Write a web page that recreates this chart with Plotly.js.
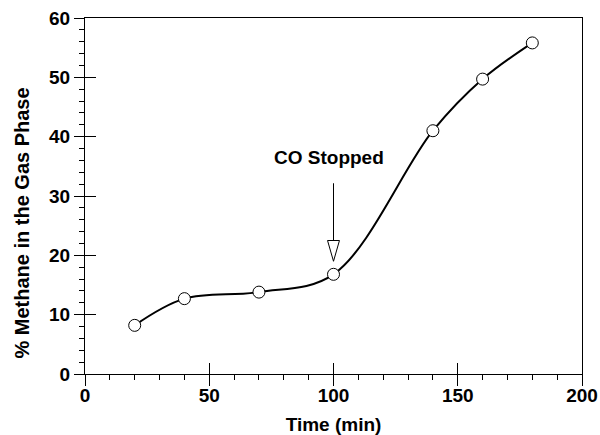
<!DOCTYPE html>
<html>
<head>
<meta charset="utf-8">
<script src="https://cdn.plot.ly/plotly-3.0.1.min.js"></script>
<style>html,body{margin:0;padding:0;background:#fff}#chart{width:600px;height:435px}</style>
</head>
<body>
<div id="chart"></div>
<script>
// Data
const timeMin = [20, 40, 70, 100, 140, 160, 180];
const methanePct = [8.2, 12.7, 13.8, 16.8, 41.0, 49.7, 55.8];
const xTickVals = [0, 50, 100, 150, 200];
const yTickVals = [0, 10, 20, 30, 40, 50, 60];
const xTitle = "Time (min)";
const yTitle = "% Methane in the Gas Phase";
const annotText = "CO Stopped";
const annotX = 100;      // time where CO was stopped
const annotTipY = 19.0;  // arrow tip
const annotTailY = 32.4; // arrow tail
const annotTextY = 34.4;

const FONT = "Liberation Sans, Arial, Helvetica, sans-serif";

const trace = {
  x: timeMin, y: methanePct,
  type: "scatter", mode: "lines+markers",
  line: {color: "#000", width: 2, shape: "spline", smoothing: 1},
  marker: {symbol: "circle", size: 12, color: "#fff", line: {color: "#000", width: 1}},
  hoverinfo: "x+y", cliponaxis: false
};
// empty trace so that the overlay axes (inner half of the major ticks) get drawn
const tickHelper = {x: [], y: [], xaxis: "x2", yaxis: "y2", type: "scatter", mode: "markers", hoverinfo: "skip", showlegend: false};

const headH = 3.5, headW = 2.4;

const layout = {
  width: 600, height: 435,
  margin: {l: 85, r: 18, t: 18, b: 61},
  paper_bgcolor: "#fff", plot_bgcolor: "#fff",
  showlegend: false,
  font: {family: FONT, color: "#000"},
  xaxis: {
    range: [0, 200], tickvals: xTickVals, ticktext: xTickVals.map(String),
    ticks: "outside", ticklen: 11, tickwidth: 1, tickcolor: "#000",
    minor: {dtick: 10, ticks: "outside", ticklen: 5, tickwidth: 1, tickcolor: "#000"},
    showgrid: false, zeroline: false,
    showline: true, linecolor: "#000", linewidth: 1, mirror: true,
    ticklabelstandoff: -7,
    tickfont: {family: FONT, size: 19, weight: "bold", color: "#000"},
    title: {text: "<b>" + xTitle + "</b>", font: {family: FONT, size: 19, color: "#000"}, standoff: 14}
  },
  yaxis: {
    range: [0, 60], tickvals: yTickVals, ticktext: yTickVals.map(String),
    ticks: "outside", ticklen: 10, tickwidth: 1, tickcolor: "#000",
    minor: {dtick: 2, ticks: "outside", ticklen: 5, tickwidth: 1, tickcolor: "#000"},
    showgrid: false, zeroline: false,
    showline: true, linecolor: "#000", linewidth: 1, mirror: true,
    tickfont: {family: FONT, size: 19, weight: "bold", color: "#000"}
  },
  xaxis2: {
    overlaying: "x", anchor: "y2", range: [0, 200], tickvals: xTickVals,
    ticks: "inside", ticklen: 11, tickwidth: 1, tickcolor: "#000",
    showticklabels: false, showgrid: false, zeroline: false, showline: false, side: "bottom"
  },
  yaxis2: {
    overlaying: "y", anchor: "x2", range: [0, 60], tickvals: yTickVals,
    ticks: "inside", ticklen: 11, tickwidth: 1, tickcolor: "#000",
    showticklabels: false, showgrid: false, zeroline: false, showline: false, side: "left"
  },
  annotations: [
    {x: annotX, y: annotTipY + headH, ax: annotX, ay: annotTailY, xref: "x", yref: "y", axref: "x", ayref: "y",
     text: "", showarrow: true, arrowhead: 0, arrowwidth: 1, arrowcolor: "#000"},
    {x: annotX, y: annotTextY, xref: "x", yref: "y", text: "<b>" + annotText + "</b>", showarrow: false,
     font: {family: FONT, size: 19, color: "#000"}, yanchor: "bottom", xanchor: "center", xshift: -5},
    {x: -0.127, y: 0.425, xref: "paper", yref: "paper", text: "<b>" + yTitle + "</b>", showarrow: false,
     textangle: -90, xanchor: "center", yanchor: "middle", font: {family: FONT, size: 20, color: "#000"}}
  ],
  shapes: [
    {type: "path", xref: "x", yref: "y",
     path: `M ${annotX - headW},${annotTipY + headH} L ${annotX + headW},${annotTipY + headH} L ${annotX},${annotTipY} Z`,
     fillcolor: "#fff", line: {color: "#000", width: 1}}
  ]
};

Plotly.newPlot("chart", [trace, tickHelper], layout, {displayModeBar: false, staticPlot: true});
</script>
</body>
</html>
